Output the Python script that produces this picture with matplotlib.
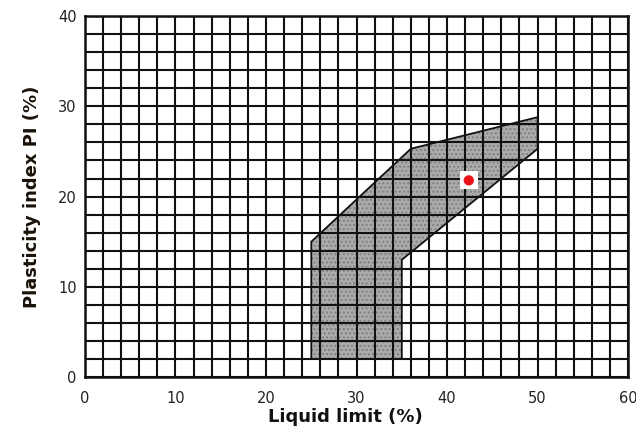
import matplotlib
matplotlib.use("Agg")
import matplotlib.pyplot as plt
import numpy as np

# Data
zone_ll = [25, 35, 35, 50, 50, 36, 25]
zone_pi = [2, 2, 13, 25.3, 28.8, 25.3, 15]
sample_ll = [42.4]
sample_pi = [21.8]
xticks = [0, 10, 20, 30, 40, 50, 60]
yticks = [0, 10, 20, 30, 40]

fig = plt.figure(figsize=(6.36, 4.34), dpi=100)
ax = fig.add_axes([0.1336, 0.131, 0.854, 0.832])
ax.set_xlim(0, 60)
ax.set_ylim(0, 40)

# shaded zone
ax.fill(zone_ll, zone_pi, facecolor="#ababab", edgecolor="none", zorder=1)
ax.fill(zone_ll, zone_pi, facecolor="none", edgecolor="#808080", hatch="....", linewidth=0, zorder=1.5)
ax.fill(zone_ll, zone_pi, facecolor="none", edgecolor="#111111", linewidth=1.3, zorder=3)

# grid every 2 units
for gx in np.arange(0, 61, 2):
    ax.axvline(gx, color="#111111", linewidth=1.5, zorder=2)
for gy in np.arange(0, 41, 2):
    ax.axhline(gy, color="#111111", linewidth=1.5, zorder=2)

# sample point
ax.scatter(sample_ll, sample_pi, marker="s", s=170, color="white", edgecolors="none", zorder=4)
ax.scatter(sample_ll, sample_pi, marker="o", s=55, color="#e8141c", edgecolors="none", zorder=5)

ax.set_xticks(xticks)
ax.set_yticks(yticks)
ax.tick_params(axis="both", length=0, labelsize=10.5, labelcolor="#222222")
ax.tick_params(axis="x", pad=10)
ax.tick_params(axis="y", pad=6)
for s in ax.spines.values():
    s.set_linewidth(1.8)
    s.set_color("#111111")

ax.set_xlabel("Liquid limit (%)", fontsize=13, fontweight="bold", color="#111111", labelpad=1)
ax.xaxis.set_label_coords(0.48, -0.085)
ax.set_ylabel("Plasticity index PI (%)", fontsize=13, fontweight="bold", color="#1a1208", labelpad=12)

fig.savefig("out.png", dpi=100)
